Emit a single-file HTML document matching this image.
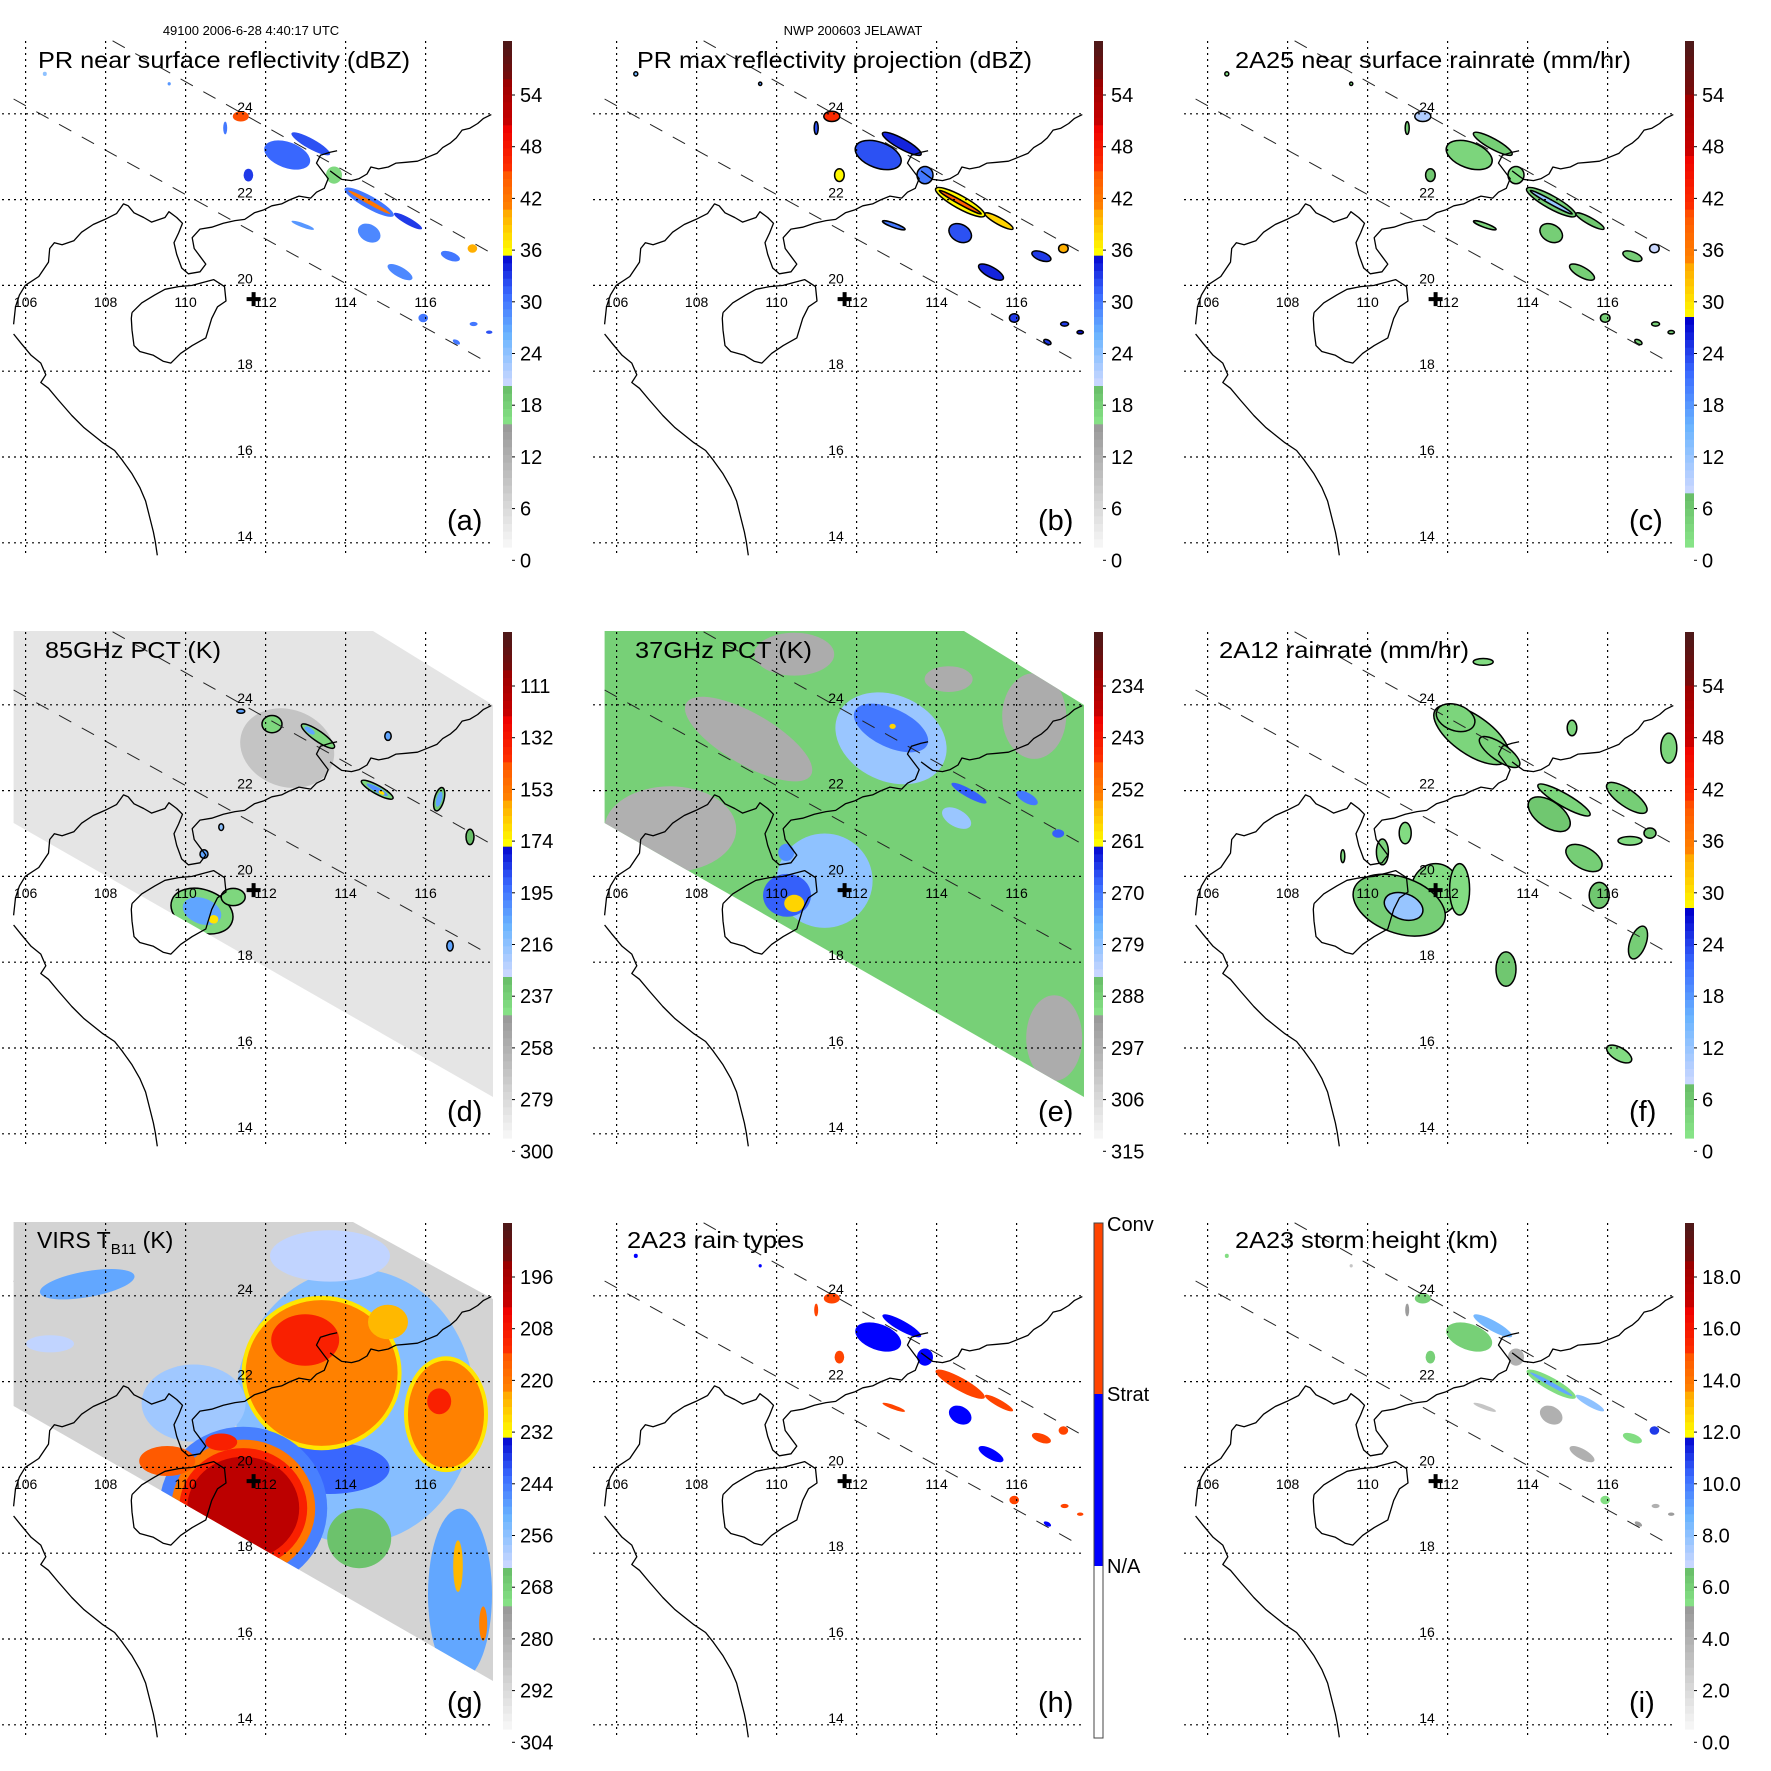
<!DOCTYPE html>
<html><head><meta charset="utf-8">
<style>
html,body{margin:0;padding:0;background:#fff;}
svg{display:block;}
text{font-family:"Liberation Sans",Arial,sans-serif;fill:#000;}
</style></head>
<body>
<svg id="fig" xmlns="http://www.w3.org/2000/svg" width="1771" height="1771" viewBox="0 0 1771 1771">
<rect x="0" y="0" width="1771" height="1771" fill="#fff"/>
<text x="251" y="35" font-size="13" text-anchor="middle">49100 2006-6-28 4:40:17 UTC</text>
<text x="853" y="35" font-size="13" text-anchor="middle">NWP 200603 JELAWAT</text>
</svg>
<script>
// ---------- DATA ----------
const prLon = [112.54,113.13,111.38,114.59,114.59,115.56,114.59,115.36,112.93,116.62,117.17,115.94,117.20,116.77,111.57,110.99,113.71,117.59,109.59,106.48];
const prLat = [23.04,23.30,23.94,21.94,21.94,21.50,21.22,20.31,21.40,20.68,20.86,19.24,19.10,18.68,22.57,23.67,22.57,18.91,24.70,24.93];
const prRx  = [0.60,0.55,0.20,0.70,0.60,0.40,0.30,0.35,0.30,0.25,0.12,0.12,0.10,0.10,0.12,0.05,0.20,0.08,0.04,0.05];
const prRy  = [0.30,0.12,0.12,0.15,0.05,0.08,0.20,0.12,0.05,0.10,0.10,0.10,0.05,0.05,0.15,0.15,0.20,0.04,0.04,0.05];
const prAng = [20,29,0,29,29,29,29,29,20,20,0,0,0,29,0,0,0,0,0,0];
const dbzNear  = [31,32,45,30,42,33,29,29,28,30,40,30,30,30,33,30,17,32,28,24];
const dbzMax   = [32,34,46,36,44,38,32,34,30,33,40,33,33,33,36,32,30,35,28,26];
const rainPR   = [4,5,10,5,12,6,5,5,4,5,8,5,5,5,6,5,3,5,3,3];
const rainType = [1,1,2,2,2,2,1,1,2,2,2,2,2,1,2,2,1,2,1,1];
const stormHt  = [6,8.5,6,5.5,9,8,4,4,3,5.5,11,5.5,4,5,6,5,4,5,3,5.5];

const pct85Cells = [
 [112.54,22.99,1.2,0.9,20,268,0],
 [112.16,23.55,0.25,0.2,0,240,1],
 [113.31,23.27,0.5,0.12,35,240,1],[113.1,23.4,0.15,0.06,35,205,0],
 [114.79,22.02,0.45,0.1,29,240,1],[114.79,22.02,0.3,0.06,29,200,0],[114.9,21.95,0.08,0.04,29,170,0],
 [116.34,21.8,0.12,0.28,15,235,1],[116.34,21.8,0.07,0.18,15,205,0],
 [117.11,20.92,0.1,0.18,0,230,1],
 [110.41,19.19,0.8,0.5,20,240,1],[110.41,19.19,0.5,0.3,20,205,0],[110.7,19.0,0.12,0.1,0,170,0],
 [111.19,19.52,0.3,0.2,0,240,1],
 [111.38,23.85,0.1,0.05,0,205,1],[115.06,23.27,0.08,0.1,0,205,1],[116.61,18.38,0.08,0.12,0,205,1],
 [110.46,20.52,0.1,0.1,0,205,1],[110.89,21.15,0.06,0.08,0,215,1]
];
const pct37Cells = [
 [107.34,21.1,1.65,1.0,0,297],[109.3,23.2,1.8,0.6,30,296],[116.44,23.74,0.8,1.0,0,296],
 [116.94,16.23,0.7,1.0,0,296],[110.44,25.18,1.0,0.5,0,296],[114.3,24.6,0.6,0.3,0,296],
 [112.86,23.22,1.45,1.0,25,280],[112.86,23.46,1.0,0.45,25,270],[112.9,23.5,0.08,0.06,0,258],
 [114.81,21.94,0.5,0.1,29,268],[116.26,21.83,0.3,0.12,29,270],[117.04,21.0,0.15,0.1,0,268],
 [111.2,19.9,1.2,1.1,0,279],[110.26,19.56,0.6,0.5,0,268],[110.44,19.37,0.25,0.2,0,258],
 [110.24,20.56,0.2,0.2,0,272],[114.5,21.36,0.4,0.2,29,280]
];
const tmiRainCells = [
 [112.6,23.3,1.1,0.45,35,4],[112.2,23.7,0.5,0.3,20,4],[113.3,22.9,0.6,0.2,35,4],
 [111.7,19.7,0.6,0.6,0,3],[112.3,19.7,0.25,0.6,0,3],[110.79,19.33,1.2,0.65,20,5],[110.9,19.3,0.5,0.3,20,12],
 [114.91,21.78,0.75,0.15,30,4],[114.54,21.45,0.6,0.3,35,6],[115.41,20.43,0.5,0.25,30,5],
 [116.48,21.83,0.6,0.2,35,5],[115.79,19.56,0.25,0.3,0,6],[116.76,18.46,0.2,0.4,20,5],
 [113.46,17.84,0.25,0.4,0,6],[117.53,22.99,0.2,0.35,0,4],[116.29,15.86,0.35,0.15,30,3],
 [110.94,21.01,0.15,0.25,0,3],[110.37,20.57,0.15,0.3,0,4],[116.56,20.83,0.3,0.1,0,3],
 [117.06,21.01,0.15,0.12,0,6],[112.89,25.0,0.25,0.08,0,3],[115.11,23.46,0.12,0.18,0,4],[109.38,20.47,0.05,0.15,0,3]
];
const virsCells = [
 [114.24,21.43,3.0,3.2,0,255],[110.2,21.5,1.3,0.9,0,258],[113.61,24.93,1.5,0.6,0,262],
 [107.54,24.27,1.2,0.3,-10,250],[106.61,22.88,0.6,0.2,0,262],[114.34,18.35,0.8,0.7,0,265],
 [116.86,17.04,0.8,2.0,0,250],[113.6,19.98,1.5,0.6,0,242],
 [113.4,22.2,2.0,1.8,0,230],[113.4,22.2,1.9,1.7,0,222],[112.99,22.97,0.85,0.6,0,210],
 [116.51,21.24,1.05,1.35,0,230],[116.51,21.24,0.95,1.25,0,222],[116.34,21.54,0.3,0.3,0,210],
 [115.06,23.39,0.5,0.4,0,225],[116.81,17.7,0.12,0.6,0,225],[117.44,16.36,0.1,0.4,0,222],
 [111.44,19.05,2.1,1.9,0,245],[111.44,19.05,1.8,1.6,0,220],[111.44,19.05,1.6,1.4,0,210],[111.44,19.05,1.4,1.2,0,200],
 [109.54,20.15,0.7,0.35,0,215],[110.89,20.59,0.4,0.2,0,210]
];
const refTicks = ['54','48','42','36','30','24','18','12','6','0'];
const p85Ticks = ['111','132','153','174','195','216','237','258','279','300'];
const p37Ticks = ['234','243','252','261','270','279','288','297','306','315'];
const virsTicks = ['196','208','220','232','244','256','268','280','292','304'];
const htTicks = ['18.0','16.0','14.0','12.0','10.0','8.0','6.0','4.0','2.0','0.0'];
const lonTicks = [106,108,110,112,114,116];
const latTicks = [24,22,20,18,16,14];
const typhoonLon = 111.7, typhoonLat = 19.68;

// ---------- GEOMETRY ----------
const NS='http://www.w3.org/2000/svg';
const svg=document.getElementById('fig');
function lonX(l){return 25.6+(l-106)*40;}
function latY(l){return 113.8+(24-l)*42.9;}
function mk(tag,attrs,parent){const e=document.createElementNS(NS,tag);for(const k in attrs)e.setAttribute(k,attrs[k]);(parent||svg).appendChild(e);return e;}
function tag(el,name){
  
  
}
const STOPS=[[0,'#f8f8f8'],[0.237,'#999999'],[0.238,'#8ae68a'],[0.32,'#66bb66'],[0.321,'#ccd8ff'],[0.42,'#6ab4ff'],[0.5,'#3a6aff'],[0.58,'#0000cc'],[0.581,'#ffff00'],[0.66,'#ffaa00'],[0.661,'#ff8800'],[0.74,'#ff5500'],[0.741,'#ff3300'],[0.83,'#ee0000'],[0.831,'#cc0000'],[0.92,'#990000'],[0.921,'#7a0a0a'],[1,'#4a1a1a']];
function hx(c){return [parseInt(c.substr(1,2),16),parseInt(c.substr(3,2),16),parseInt(c.substr(5,2),16)];}
function pal(f){f=Math.max(0,Math.min(1,f));for(let i=1;i<STOPS.length;i++){if(f<=STOPS[i][0]){const a=STOPS[i-1],b=STOPS[i];const t=(f-a[0])/((b[0]-a[0])||1);const ca=hx(a[1]),cb=hx(b[1]);return 'rgb('+ca.map((v,j)=>Math.round(v+(cb[j]-v)*t)).join(',')+')';}}return STOPS[STOPS.length-1][1];}
function valY(v,lo,hi){return 560-(v-lo)/(hi-lo)*516.7;}
function colorFor(v,P){let f=(547-valY(v,P.lo,P.hi))/506;if(P.pal2)f=0.238+f*0.762;return pal(f);}

const coastN=[[35,835],[40,790],[50,760],[65,735],[100,712],[125,675],[128,640],[140,625],[160,630],[190,620],[210,598],[240,578],[270,565],[300,550],[318,525],[330,530],[345,548],[370,560],[390,572],[425,560],[435,545],[455,560],[470,575],[460,600],[448,625],[455,655],[468,690],[485,705],[515,700],[530,680],[515,660],[500,640],[495,612],[515,590],[545,585],[575,575],[605,568],[630,565],[655,548],[680,540],[700,530],[725,525],[745,515],[770,505],[800,510],[815,495],[835,485],[845,460],[830,440],[815,420],[825,400],[850,392],[868,388]];
const coastE=[[850,440],[870,455],[880,462],[905,465],[925,460],[945,448],[955,430],[975,435],[1000,430],[1020,420],[1045,418],[1075,415],[1100,405],[1125,395],[1140,380],[1160,368],[1175,355],[1190,335],[1210,330],[1230,318],[1245,305],[1265,295]];
const coastS=[[35,860],[55,885],[80,915],[105,935],[118,965],[105,985],[125,1000],[150,1030],[185,1070],[215,1100],[240,1120],[265,1140],[295,1160],[315,1185],[340,1220],[360,1255],[375,1290],[385,1330],[395,1370],[400,1395],[405,1430]];
const hainan=[[340,805],[365,780],[398,760],[425,745],[460,738],[495,735],[520,728],[550,720],[578,738],[582,775],[560,790],[545,820],[530,870],[495,890],[465,910],[440,935],[420,930],[395,915],[360,905],[345,890],[340,850],[338,820],[340,805]];
function pts(a){return a.map(p=>(p[0]/2.575).toFixed(1)+','+(p[1]/2.575).toFixed(1)).join(' ');}
const tmiSwath='13.6,40 373,40 493,114 493,506 13.6,232';
const virsSwath='13.6,40 353,40 493,117 493,499 13.6,224';

const panels=[
 {id:'a',ox:0,oy:0,title:'PR near surface reflectivity (dBZ)',tx:38,tw:372,lo:0,hi:60,ticks:refTicks,kind:'pr',vals:dbzNear},
 {id:'b',ox:591,oy:0,title:'PR max reflectivity projection (dBZ)',tx:46,tw:395,lo:0,hi:60,ticks:refTicks,kind:'pr',vals:dbzMax,outline:1},
 {id:'c',ox:1182,oy:0,title:'2A25 near surface rainrate (mm/hr)',tx:53,tw:396,lo:0,hi:60,ticks:refTicks,kind:'pr',vals:rainPR,outline:1,pal2:1},
 {id:'d',ox:0,oy:591,title:'85GHz PCT (K)',tx:45,tw:176,lo:300,hi:90,ticks:p85Ticks,kind:'cells',cells:pct85Cells,swath:tmiSwath,bg:285},
 {id:'e',ox:591,oy:591,title:'37GHz PCT (K)',tx:44,tw:177,lo:315,hi:225,ticks:p37Ticks,kind:'cells',cells:pct37Cells,swath:tmiSwath,bg:288},
 {id:'f',ox:1182,oy:591,title:'2A12 rainrate (mm/hr)',tx:37,tw:250,lo:0,hi:60,ticks:refTicks,kind:'cells',cells:tmiRainCells,pal2:1,outlineAll:1},
 {id:'g',ox:0,oy:1182,title:'VIRS',tx:37,lo:304,hi:184,ticks:virsTicks,kind:'cells',cells:virsCells,swath:virsSwath,bg:290,dashUnder:1},
 {id:'h',ox:591,oy:1182,title:'2A23 rain types',tx:36,tw:177,kind:'pr',vals:rainType,types:1},
 {id:'i',ox:1182,oy:1182,title:'2A23 storm height (km)',tx:53,tw:263,lo:0,hi:20,ticks:htTicks,kind:'pr',vals:stormHt}
];

function ell(parent,lon,lat,rl,rt,ang,fill,stroke){
  const cx=lonX(lon),cy=latY(lat);
  const e=mk('ellipse',{cx:cx.toFixed(1),cy:cy.toFixed(1),rx:(rl*40).toFixed(1),ry:(rt*42.9).toFixed(1),fill:fill,transform:'rotate('+ang+' '+cx.toFixed(1)+' '+cy.toFixed(1)+')'},parent);
  if(stroke){e.setAttribute('stroke','#000');e.setAttribute('stroke-width','1.5');}
  return e;
}

panels.forEach(P=>{
  const g=mk('g',{transform:'translate('+P.ox+','+P.oy+')'});
  tag(g,'panel-'+P.id);
  const dash=()=>{
    const dl=mk('g',{stroke:'#222','stroke-width':'1','stroke-dasharray':'14,12',fill:'none'},g);
    tag(dl,'pr-swath-edges');
    mk('line',{x1:112.6,y1:40.8,x2:493,y2:254},dl);
    mk('line',{x1:13.6,y1:99,x2:481.5,y2:359},dl);
  };
  if(P.dashUnder)dash();
  if(P.swath){
    const cp=mk('clipPath',{id:'clip-'+P.id},g);
    mk('polygon',{points:P.swath},cp);
    const sw=mk('polygon',{points:P.swath,fill:colorFor(P.bg,P)},g);
    tag(sw,'satellite-swath');
  }
  const field=mk('g',P.swath?{'clip-path':'url(#clip-'+P.id+')'}:{},g);
  tag(field,'data-field');
  if(P.kind==='pr'){
    for(let i=0;i<prLon.length;i++){
      let col;
      if(P.types) col=rainType[i]===2?'#ff4400':'#0000ff';
      else col=colorFor(P.vals[i],P);
      const e=ell(field,prLon[i],prLat[i],prRx[i],prRy[i],prAng[i],col,P.outline);
      
    }
  } else {
    P.cells.forEach(c=>{
      const e=ell(field,c[0],c[1],c[2],c[3],c[4],colorFor(c[5],P),P.outlineAll||c[6]);
      
    });
  }
  if(!P.dashUnder)dash();
  const gr=mk('g',{stroke:'#000','stroke-width':'1.2','stroke-dasharray':'2,4',fill:'none'},g);
  tag(gr,'graticule');
  latTicks.forEach(l=>mk('line',{x1:2,y1:latY(l),x2:493,y2:latY(l)},gr));
  lonTicks.forEach(l=>mk('line',{x1:lonX(l),y1:41,x2:lonX(l),y2:556},gr));
  const cg=mk('g',{stroke:'#000','stroke-width':'1.3',fill:'none','stroke-linejoin':'round'},g);
  tag(cg,'coastline');
  mk('polyline',{points:pts(coastN)},cg);mk('polyline',{points:pts(coastE)},cg);
  mk('polyline',{points:pts(coastS)},cg);mk('polyline',{points:pts(hainan)},cg);
  lonTicks.forEach(l=>{const t=mk('text',{x:lonX(l),y:307,'font-size':'14','text-anchor':'middle'},g);t.textContent=String(l);
    
    });
  latTicks.forEach(l=>{const t=mk('text',{x:245,y:latY(l)-2,'font-size':'14','text-anchor':'middle'},g);t.textContent=String(l);
    
    });
  const cx=lonX(typhoonLon),cy=latY(typhoonLat);
  const cr=mk('path',{d:'M'+(cx-7)+' '+cy+'H'+(cx+7)+'M'+cx+' '+(cy-7)+'V'+(cy+7),stroke:'#000','stroke-width':'4'},g);
  tag(cr,'typhoon-center-marker');
  const t=mk('text',{x:P.tx,y:P.oy>1000?66:(P.oy>0?67:68),'font-size':'23'},g);
  tag(t,'panel-title');
  if(P.id==='g'){
    t.textContent='VIRS T';
    const s=mk('tspan',{'font-size':'15',dy:'6'},t);s.textContent='B11';
    const s2=mk('tspan',{dy:'-6'},t);s2.textContent=' (K)';
  } else {t.textContent=P.title;t.setAttribute('textLength',P.tw);t.setAttribute('lengthAdjust','spacingAndGlyphs');}
  const lt=mk('text',{x:447,y:530,'font-size':'29'},g);lt.textContent='('+P.id+')';
  tag(lt,'panel-letter');
  const cb=mk('g',{},g);
  tag(cb,'colorbar');
  if(P.types){
    mk('rect',{x:503,y:41,width:9,height:171,fill:'#ff4400'},cb);
    mk('rect',{x:503,y:212,width:9,height:172,fill:'#0000ff'},cb);
    mk('rect',{x:503,y:384,width:9,height:172,fill:'#fff'},cb);
    mk('rect',{x:503,y:41,width:9,height:515,fill:'none',stroke:'#444','stroke-width':'1'},cb);
    [['Conv',49],['Strat',219],['N/A',391]].forEach(a=>{const x=mk('text',{x:516,y:a[1],'font-size':'20'},cb);x.textContent=a[0];
      
      });
  } else {
    const N=66;
    for(let k=0;k<N;k++){
      const y0=41+k*506/N;const f=1-(k+0.5)/N;
      mk('rect',{x:503,y:y0.toFixed(2),width:9,height:(506/N+0.6).toFixed(2),fill:pal(P.pal2?0.238+f*0.762:f)},cb);
    }
    P.ticks.forEach((s,i)=>{const y=95+i*51.7;
      mk('line',{x1:512,y1:y,x2:515,y2:y,stroke:'#000','stroke-width':'1'},cb);
      const x=mk('text',{x:520,y:y+7,'font-size':'20'},cb);x.textContent=s;
      
      });
  }
});
</script>
</body></html>
